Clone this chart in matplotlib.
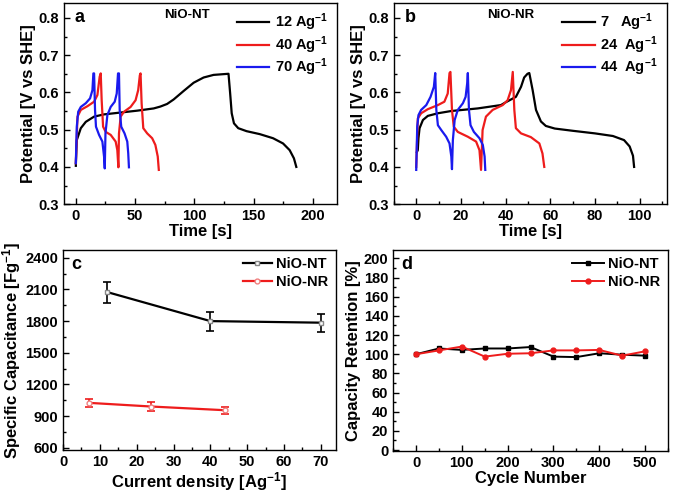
import matplotlib
matplotlib.use("Agg")
import matplotlib.pyplot as plt
from matplotlib.ticker import MultipleLocator

plt.rcParams["font.family"] = ["Liberation Sans", "DejaVu Sans"]
plt.rcParams["font.weight"] = "bold"
plt.rcParams["axes.labelweight"] = "bold"
plt.rcParams["mathtext.fontset"] = "custom"
plt.rcParams["mathtext.bf"] = "Liberation Sans:bold"
plt.rcParams["mathtext.rm"] = "Liberation Sans:bold"
plt.rcParams["mathtext.default"] = "bf"

# ---- panel a: NiO-NT charge/discharge curves ----
nt12_t = [0, 0.4, 0.8, 4.2, 8.4, 15.4, 23.8, 37.8, 51.8, 65.7, 71.3, 77, 82.5, 91,
          99.4, 107.8, 116.2, 128.8, 130.2, 131.5, 133.4, 137, 144, 155.2, 166.4,
          174.8, 180.4, 184, 186]
nt12_v = [0.403, 0.445, 0.472, 0.504, 0.521, 0.535, 0.541, 0.546, 0.551, 0.557, 0.562,
          0.569, 0.581, 0.604, 0.626, 0.640, 0.647, 0.650, 0.597, 0.544, 0.517, 0.504,
          0.496, 0.488, 0.477, 0.463, 0.445, 0.423, 0.400]
nt40_t = [0, 1.4, 4.2, 9.8, 15.4, 18.2, 20.1, 21, 21.8, 23, 25.2, 29.4, 33.6, 35, 35.9,
          36.4, 37.8, 40.6, 46.2, 50.4, 52.6, 54, 54.6, 55.5, 56.9, 60.2, 64.4, 67.1,
          69.1, 70]
nt40_v = [0.41, 0.535, 0.553, 0.563, 0.575, 0.593, 0.642, 0.651, 0.579, 0.508, 0.494,
          0.486, 0.468, 0.445, 0.399, 0.49, 0.535, 0.548, 0.561, 0.579, 0.606, 0.646,
          0.651, 0.571, 0.504, 0.49, 0.477, 0.459, 0.428, 0.392]
nt70_t = [0, 0.8, 2, 4.2, 8.4, 12, 14, 14.8, 15.4, 16.2, 17, 19.6, 22.4, 23.8, 24.4,
          25, 26.6, 29.4, 32.8, 34.5, 35.6, 36.4, 37, 38.3, 41.1, 43.4, 44.2, 44.8]
nt70_v = [0.41, 0.508, 0.548, 0.561, 0.571, 0.584, 0.606, 0.651, 0.651, 0.553, 0.508,
          0.486, 0.468, 0.428, 0.396, 0.49, 0.539, 0.561, 0.575, 0.597, 0.651, 0.651,
          0.553, 0.508, 0.49, 0.468, 0.437, 0.399]

# ---- panel b: NiO-NR charge/discharge curves ----
nr7_t = [0.3, 0.7, 1.0, 1.5, 3, 5.2, 9.7, 15.6, 27.5, 37.9, 40.2, 44.6, 46.9, 48.3,
         49.8, 50.6, 52.1, 53.6, 55.8, 58, 62, 70, 80, 88, 93, 95.5, 97, 97.5]
nr7_v = [0.44, 0.445, 0.477, 0.504, 0.526, 0.537, 0.544, 0.55, 0.557, 0.566, 0.574,
         0.588, 0.615, 0.640, 0.650, 0.652, 0.606, 0.553, 0.522, 0.510, 0.503, 0.497,
         0.490, 0.483, 0.472, 0.455, 0.430, 0.400]
nr24_t = [0, 0.7, 2.2, 5.2, 9.7, 12.6, 14.1, 14.9, 15.3, 16, 16.8, 18.6, 23.1, 26.8,
          28.3, 29, 29.7, 31.2, 34.2, 38.7, 40.9, 42.4, 43.2, 43.9, 44.6, 46.9, 51.3,
          55.1, 56.5, 57.3]
nr24_v = [0.40, 0.53, 0.544, 0.555, 0.566, 0.575, 0.597, 0.652, 0.655, 0.553, 0.508,
          0.494, 0.481, 0.468, 0.445, 0.392, 0.499, 0.535, 0.553, 0.566, 0.579, 0.606,
          0.655, 0.553, 0.504, 0.49, 0.48, 0.463, 0.436, 0.40]
nr44_t = [0, 0.45, 1, 2.2, 4.5, 6.4, 7.9, 8.5, 9, 9.7, 11.2, 13.4, 14.9, 15.7, 16,
          16.4, 17.2, 18.6, 20.9, 22.1, 22.8, 23.1, 23.6, 24.3, 25.8, 28.3, 29.8,
          30.6, 30.9]
nr44_v = [0.392, 0.508, 0.539, 0.553, 0.566, 0.588, 0.615, 0.652, 0.553, 0.512, 0.499,
          0.481, 0.463, 0.428, 0.394, 0.472, 0.526, 0.553, 0.571, 0.588, 0.624, 0.652,
          0.553, 0.512, 0.494, 0.477, 0.459, 0.428, 0.392]

# ---- panel c: specific capacitance ----
nt_density = [12, 40, 70]
nt_cap = [2075, 1800, 1785]
nt_err = [100, 90, 85]
nr_density = [7, 24, 44]
nr_cap = [1025, 990, 955]
nr_err = [40, 40, 35]

# ---- panel d: capacity retention ----
cycles = [0, 50, 100, 150, 200, 250, 300, 350, 400, 450, 500]
nt_ret = [100, 106, 104.5, 106, 106, 107.5, 97.5, 97, 101, 99.5, 98.5]
nr_ret = [100, 104, 108, 97.5, 100.5, 101, 104, 104, 104.5, 98.5, 103]

RED = "#ee1c1c"
BLUE = "#1a1aee"

fig = plt.figure(figsize=(6.85, 4.98), dpi=100)
ax_a = fig.add_axes([0.0934, 0.590, 0.398, 0.404])
ax_b = fig.add_axes([0.575, 0.590, 0.398, 0.404])
ax_c = fig.add_axes([0.092, 0.0964, 0.398, 0.402])
ax_d = fig.add_axes([0.574, 0.0944, 0.401, 0.404])

TICK = 10.5
LAB = 12


def style(ax):
    for s in ax.spines.values():
        s.set_linewidth(1.0)
    ax.tick_params(which="both", direction="in", top=False, right=False,
                   labelsize=TICK, width=1.0)
    ax.tick_params(which="major", length=4)
    ax.tick_params(which="minor", length=2.5)


lw = 1.6
ax_a.plot(nt12_t, nt12_v, color="black", lw=lw, label="12 Ag$^{-1}$")
ax_a.plot(nt40_t, nt40_v, color=RED, lw=lw, label="40 Ag$^{-1}$")
ax_a.plot(nt70_t, nt70_v, color=BLUE, lw=lw, label="70 Ag$^{-1}$")
ax_a.set_xlim(-10, 220)
ax_a.set_ylim(0.3, 0.84)
ax_a.xaxis.set_major_locator(MultipleLocator(50))
ax_a.xaxis.set_minor_locator(MultipleLocator(25))
ax_a.yaxis.set_major_locator(MultipleLocator(0.1))
ax_a.yaxis.set_minor_locator(MultipleLocator(0.05))
ax_a.set_xlabel("Time [s]", fontsize=LAB, labelpad=1)
ax_a.set_ylabel("Potential [V vs SHE]", fontsize=LAB, labelpad=2)
ax_a.text(0.04, 0.97, "a", transform=ax_a.transAxes, fontsize=13, va="top")
ax_a.text(0.45, 0.97, "NiO-NT", transform=ax_a.transAxes, fontsize=9.5, va="top", ha="center")
ax_a.legend(loc="upper right", frameon=False, fontsize=10.5, handlelength=2.2,
            handletextpad=0.4, labelspacing=0.05, borderaxespad=0.2)
style(ax_a)

ax_b.plot(nr7_t, nr7_v, color="black", lw=lw, label="7   Ag$^{-1}$")
ax_b.plot(nr24_t, nr24_v, color=RED, lw=lw, label="24  Ag$^{-1}$")
ax_b.plot(nr44_t, nr44_v, color=BLUE, lw=lw, label="44  Ag$^{-1}$")
ax_b.set_xlim(-10, 112)
ax_b.set_ylim(0.3, 0.84)
ax_b.xaxis.set_major_locator(MultipleLocator(20))
ax_b.xaxis.set_minor_locator(MultipleLocator(10))
ax_b.yaxis.set_major_locator(MultipleLocator(0.1))
ax_b.yaxis.set_minor_locator(MultipleLocator(0.05))
ax_b.set_xlabel("Time [s]", fontsize=LAB, labelpad=1)
ax_b.set_ylabel("Potential [V vs SHE]", fontsize=LAB, labelpad=2)
ax_b.text(0.04, 0.97, "b", transform=ax_b.transAxes, fontsize=13, va="top")
ax_b.text(0.43, 0.97, "NiO-NR", transform=ax_b.transAxes, fontsize=9.5, va="top", ha="center")
ax_b.legend(loc="upper right", frameon=False, fontsize=10.5, handlelength=2.2,
            handletextpad=0.4, labelspacing=0.05, borderaxespad=0.2)
style(ax_b)

# error bars first, then the lines with markers carry the legend labels
ax_c.errorbar(nt_density, nt_cap, yerr=nt_err, fmt="none", ecolor="black",
              capsize=3, elinewidth=1.2, capthick=1.2)
ax_c.errorbar(nr_density, nr_cap, yerr=nr_err, fmt="none", ecolor=RED,
              capsize=3, elinewidth=1.2, capthick=1.2)
ax_c.plot(nt_density, nt_cap, color="black", lw=1.6, marker="s", ms=3.5,
          mfc="white", mec="#888888", label="NiO-NT")
ax_c.plot(nr_density, nr_cap, color=RED, lw=1.6, marker="o", ms=3.5,
          mfc="white", mec="#f08080", label="NiO-NR")
ax_c.set_xlim(0, 74)
ax_c.set_ylim(578, 2476)
ax_c.xaxis.set_major_locator(MultipleLocator(10))
ax_c.xaxis.set_minor_locator(MultipleLocator(5))
ax_c.yaxis.set_major_locator(MultipleLocator(300))
ax_c.yaxis.set_minor_locator(MultipleLocator(150))
ax_c.set_xlabel("Current density [Ag$^{-1}$]", fontsize=LAB, labelpad=1)
ax_c.set_ylabel("Specific Capacitance [Fg$^{-1}$]", fontsize=LAB, labelpad=2)
ax_c.text(0.03, 0.97, "c", transform=ax_c.transAxes, fontsize=13, va="top")
ax_c.legend(loc="upper right", frameon=False, fontsize=10.5, handlelength=2.0,
            handletextpad=0.3, labelspacing=0.3, borderaxespad=0.1)
style(ax_c)

ax_d.plot(cycles, nt_ret, color="black", lw=1.4, marker="s", ms=3.5, label="NiO-NT")
ax_d.plot(cycles, nr_ret, color=RED, lw=1.4, marker="o", ms=3.5, label="NiO-NR")
ax_d.set_xlim(-50, 550)
ax_d.set_ylim(-1, 209)
ax_d.xaxis.set_major_locator(MultipleLocator(100))
ax_d.xaxis.set_minor_locator(MultipleLocator(50))
ax_d.yaxis.set_major_locator(MultipleLocator(20))
ax_d.yaxis.set_minor_locator(MultipleLocator(10))
ax_d.set_xlabel("Cycle Number", fontsize=LAB, labelpad=1)
ax_d.set_ylabel("Capacity Retention [%]", fontsize=LAB, labelpad=2)
ax_d.text(0.03, 0.97, "d", transform=ax_d.transAxes, fontsize=13, va="top")
ax_d.legend(loc="upper right", frameon=False, fontsize=10.5, handlelength=2.2,
            handletextpad=0.3, labelspacing=0.3, borderaxespad=0.1)
style(ax_d)

fig.savefig("out.png", dpi=100)
